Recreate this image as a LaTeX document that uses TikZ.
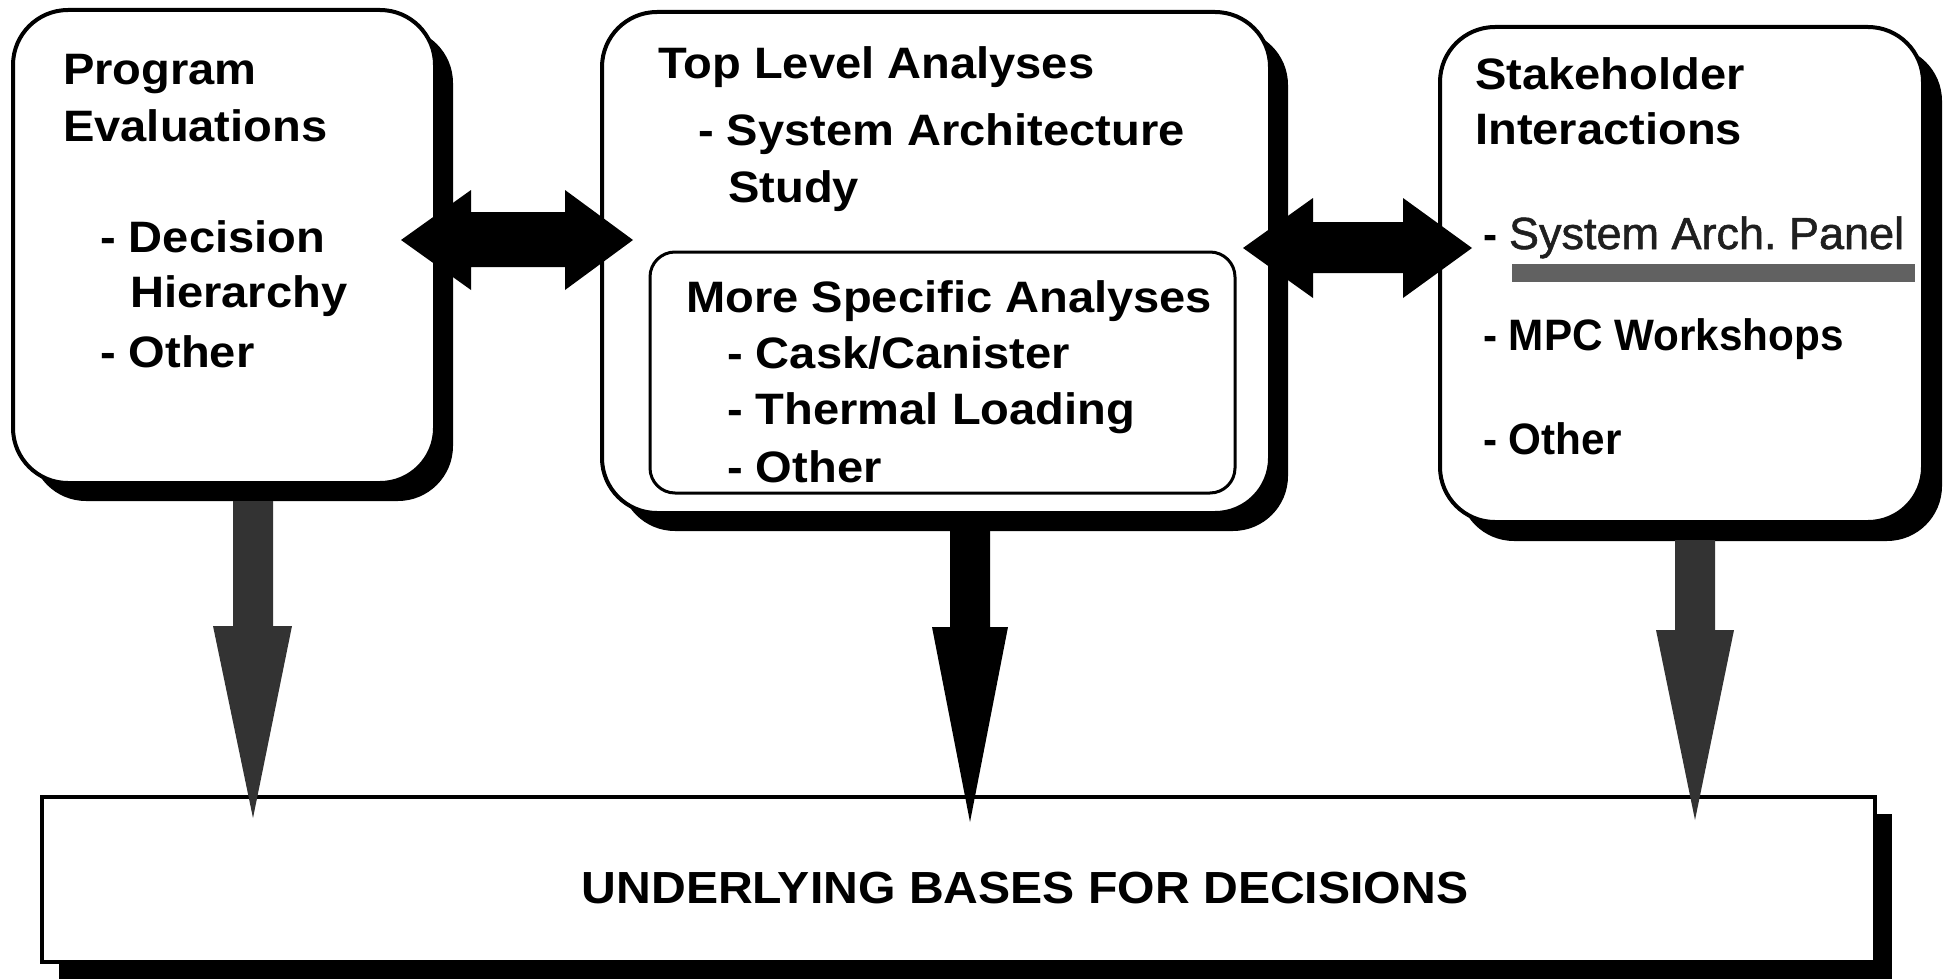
\documentclass[tikz,border=0pt]{standalone}
\usepackage{fontspec}
\setmainfont{Liberation Sans}[FakeStretch=1.07]
\newfontfamily\plainfont{Liberation Sans}[FakeBold=1.2]
\newfontfamily\narrowfont{Liberation Sans}[FakeStretch=0.96]
\usetikzlibrary{shadows}
\begin{document}
\begin{tikzpicture}[x=1pt,y=-1pt,
  rbox/.style={draw=black, line width=4pt, fill=white, rounded corners=55pt,
    outer sep=0pt, inner sep=0pt, anchor=north west,
    general shadow={fill=black, shadow xshift=#1pt, shadow yshift=-#1pt}},
  rbox/.default=18,
  innerbox/.style={draw=black, line width=3pt, rounded corners=25pt,
    outer sep=0pt, inner sep=0pt, anchor=north west},
  basebox/.style={draw=black, line width=4pt, fill=white, outer sep=0pt,
    inner sep=0pt, anchor=north west,
    general shadow={fill=black, shadow xshift=17pt, shadow yshift=-17pt}},
  txt/.style={anchor=base west, inner sep=0pt, font=\fontsize{44}{50}\selectfont\bfseries},
  ntxt/.style={anchor=base west, inner sep=0pt, font=\narrowfont\fontsize{44}{50}\selectfont\bfseries},
  btxt/.style={anchor=base, inner sep=0pt, font=\fontsize{45}{50}\selectfont\bfseries},
  blockarrow/.style={fill=black},
  greyarrow/.style={fill=black!80},
  underbar/.style={fill=black!62}
]
\path[use as bounding box] (0,0) rectangle (1948,979);

% ---------- boxes ----------
\node[rbox, minimum width=422pt, minimum height=473pt] (pe) at (13,10) {};
\node[rbox, minimum width=668pt, minimum height=501pt] (tla) at (602,12) {};
\node[innerbox, minimum width=585pt, minimum height=241pt] (msa) at (650,252) {};
\node[rbox=19, minimum width=483pt, minimum height=495pt] (si) at (1440,27) {};
\node[basebox, minimum width=1833pt, minimum height=165pt] (bb) at (42,797) {};

% ---------- texts: Program Evaluations ----------
\node[txt] (pe1) at (63,85) {Program};
\node[txt] (pe2) at (63,142) {Evaluations};
\node[txt] (pe3) at (100,252) {- Decision};
\node[txt] (pe4) at (130,307) {Hierarchy};
\node[txt] (pe5) at (100,367) {- Other};

% ---------- texts: Top Level Analyses ----------
\node[txt] (tl1) at (658,79) {Top Level Analyses};
\node[txt] (tl2) at (698,146) {- System Architecture};
\node[txt] (tl3) at (728,202) {Study};
\node[txt] (ms1) at (686,312) {More Specific Analyses};
\node[txt] (ms2) at (727,368) {- Cask/Canister};
\node[txt] (ms3) at (727,424) {- Thermal Loading};
\node[txt] (ms4) at (727,482) {- Other};

% ---------- texts: Stakeholder Interactions ----------
\node[txt] (si1) at (1475,90) {Stakeholder};
\node[txt] (si2) at (1475,144) {Interactions};
\node[ntxt] (si3) at (1483,249) {- {\plainfont\mdseries\fontsize{45}{50}\selectfont\color{black!88}System Arch.\ Panel}};
\fill[underbar] (1512,264) rectangle (1915,282);
\node[ntxt] (si4) at (1483,350) {- MPC Workshops};
\node[ntxt] (si5) at (1483,454) {- Other};

% ---------- bottom text ----------
\node[btxt] (bbt) at (1025,903) {UNDERLYING BASES FOR DECISIONS};

% ---------- double arrows ----------
\coordinate (a1l) at (401,240);
\coordinate (a1r) at (633,240);
\fill[blockarrow] (a1l) -- (471,190) -- (471,212) -- (565,212) -- (565,190) -- (a1r)
  -- (565,290) -- (565,267) -- (471,267) -- (471,290) -- cycle;
\coordinate (a2l) at (1243,248);
\coordinate (a2r) at (1472,248);
\fill[blockarrow] (a2l) -- (1313,198) -- (1313,222) -- (1403,222) -- (1403,198) -- (a2r)
  -- (1403,298) -- (1403,273) -- (1313,273) -- (1313,298) -- cycle;

% ---------- down arrows ----------
\coordinate (d1) at (253,818);
\fill[greyarrow] (233,501) -- (273,501) -- (273,626) -- (292,626) -- (d1)
  -- (213,626) -- (233,626) -- cycle;
\coordinate (d2) at (970,822);
\fill[blockarrow] (950,531) -- (990,531) -- (990,627) -- (1008,627) -- (d2)
  -- (932,627) -- (950,627) -- cycle;
\coordinate (d3) at (1695,820);
\fill[greyarrow] (1675,540) -- (1715,540) -- (1715,630) -- (1734,630) -- (d3)
  -- (1656,630) -- (1675,630) -- cycle;
\end{tikzpicture}
\end{document}
